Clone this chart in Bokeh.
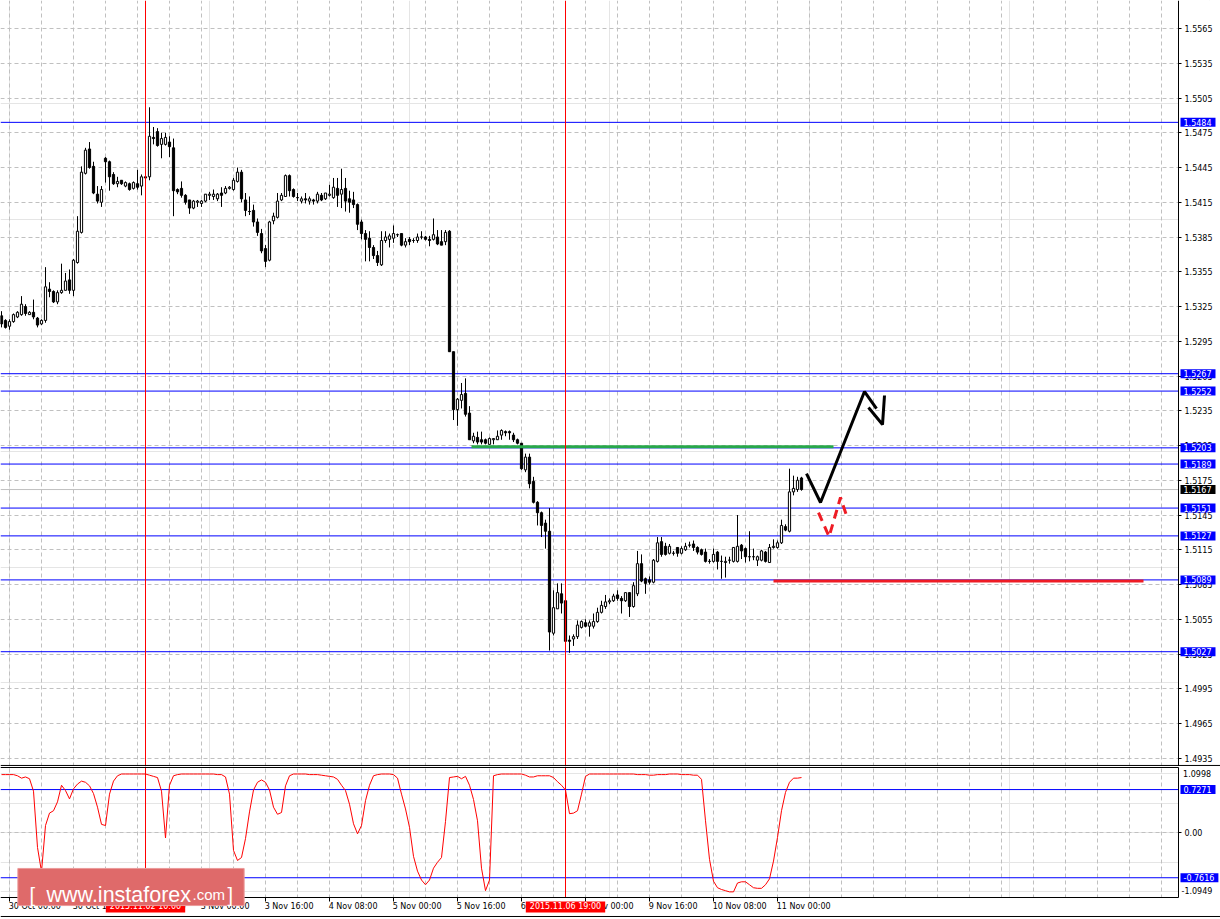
from bokeh.plotting import figure
from bokeh.models import (Range1d, FixedTicker, Label, Grid, PrintfTickFormatter, LinearAxis,
                          GlobalInlineStyleSheet)
from bokeh.layouts import column
from bokeh.embed import file_html
from bokeh.resources import INLINE

# ---------------- data (EUR/USD H1, bar index 0 = 30 Oct 00:00) ----------------
first_bar = -2
open_ = [1.5317,1.5313,1.5308,1.5312,1.5316,1.5318,1.5325,1.5318,1.5320,1.5315,1.5310,1.5313,1.5340,1.5338,1.5329,1.5337,1.5339,1.5348,1.5339,1.5363,
         1.5389,1.5440,1.5461,1.5446,1.5422,1.5415,1.5453,1.5450,1.5439,1.5431,1.5434,1.5429,1.5431,1.5427,1.5431,1.5429,1.5437,1.5437,1.5471,1.5476,
         1.5465,1.5465,1.5467,1.5462,1.5426,1.5427,1.5421,1.5417,1.5410,1.5415,1.5414,1.5416,1.5421,1.5420,1.5418,1.5423,1.5423,1.5427,1.5426,1.5433,
         1.5441,1.5417,1.5407,1.5408,1.5398,1.5388,1.5375,1.5365,1.5399,1.5402,1.5417,1.5420,1.5438,1.5426,1.5419,1.5416,1.5418,1.5416,1.5417,1.5416,
         1.5421,1.5418,1.5421,1.5419,1.5427,1.5422,1.5427,1.5418,1.5417,1.5413,1.5398,1.5388,1.5384,1.5376,1.5369,1.5361,1.5382,1.5383,1.5384,1.5387,
         1.5388,1.5378,1.5383,1.5382,1.5382,1.5385,1.5385,1.5383,1.5383,1.5385,1.5381,1.5381,1.5390,1.5286,1.5236,1.5244,1.5250,1.5233,1.5209,1.5212,
         1.5210,1.5210,1.5206,1.5210,1.5210,1.5214,1.5217,1.5217,1.5214,1.5210,1.5207,1.5184,1.5195,1.5174,1.5156,1.5147,1.5138,1.5131,1.5043,1.5064,
         1.5077,1.5071,1.5037,1.5038,1.5040,1.5048,1.5052,1.5049,1.5049,1.5053,1.5061,1.5066,1.5070,1.5071,1.5076,1.5073,1.5071,1.5078,1.5066,1.5077,
         1.5103,1.5090,1.5089,1.5087,1.5105,1.5122,1.5118,1.5112,1.5112,1.5117,1.5112,1.5115,1.5119,1.5120,1.5117,1.5115,1.5113,1.5105,1.5105,1.5113,
         1.5105,1.5104,1.5106,1.5105,1.5105,1.5119,1.5116,1.5109,1.5109,1.5106,1.5106,1.5113,1.5104,1.5117,1.5117,1.5121,1.5135,1.5131,1.5165,1.5167,
         1.5177]
high = [1.5321,1.5314,1.5314,1.5319,1.5321,1.5334,1.5327,1.5321,1.5331,1.5316,1.5314,1.5359,1.5346,1.5339,1.5339,1.5362,1.5354,1.5357,1.5366,1.5403,
        1.5446,1.5462,1.5467,1.5450,1.5429,1.5429,1.5454,1.5451,1.5441,1.5437,1.5434,1.5433,1.5432,1.5433,1.5443,1.5439,1.5438,1.5497,1.5480,1.5479,
        1.5475,1.5475,1.5472,1.5470,1.5427,1.5433,1.5422,1.5417,1.5417,1.5417,1.5417,1.5422,1.5424,1.5426,1.5423,1.5428,1.5429,1.5429,1.5436,1.5445,
        1.5443,1.5423,1.5420,1.5413,1.5401,1.5392,1.5378,1.5399,1.5406,1.5423,1.5423,1.5439,1.5439,1.5427,1.5423,1.5420,1.5423,1.5420,1.5418,1.5424,
        1.5423,1.5423,1.5430,1.5436,1.5436,1.5444,1.5436,1.5425,1.5424,1.5414,1.5400,1.5391,1.5390,1.5378,1.5373,1.5390,1.5390,1.5388,1.5395,1.5388,
        1.5388,1.5384,1.5385,1.5384,1.5388,1.5390,1.5386,1.5386,1.5401,1.5391,1.5391,1.5391,1.5391,1.5286,1.5246,1.5259,1.5263,1.5239,1.5216,1.5217,
        1.5217,1.5211,1.5212,1.5211,1.5218,1.5219,1.5218,1.5218,1.5216,1.5211,1.5207,1.5198,1.5198,1.5178,1.5157,1.5148,1.5141,1.5151,1.5080,1.5086,
        1.5086,1.5086,1.5041,1.5042,1.5054,1.5054,1.5055,1.5054,1.5060,1.5065,1.5071,1.5076,1.5073,1.5077,1.5080,1.5075,1.5078,1.5078,1.5087,1.5114,
        1.5111,1.5091,1.5092,1.5107,1.5126,1.5126,1.5121,1.5120,1.5114,1.5117,1.5118,1.5121,1.5122,1.5123,1.5118,1.5116,1.5116,1.5107,1.5116,1.5114,
        1.5110,1.5109,1.5109,1.5117,1.5145,1.5120,1.5117,1.5131,1.5116,1.5110,1.5115,1.5114,1.5120,1.5124,1.5123,1.5141,1.5137,1.5185,1.5179,1.5178,
        1.5178]
low = [1.5307,1.5306,1.5305,1.5311,1.5315,1.5317,1.5317,1.5318,1.5314,1.5307,1.5309,1.5311,1.5333,1.5328,1.5327,1.5336,1.5339,1.5336,1.5334,1.5362,
       1.5388,1.5439,1.5444,1.5422,1.5414,1.5411,1.5432,1.5425,1.5430,1.5428,1.5430,1.5428,1.5425,1.5426,1.5426,1.5421,1.5435,1.5434,1.5465,1.5463,
       1.5453,1.5464,1.5454,1.5403,1.5422,1.5419,1.5413,1.5405,1.5409,1.5411,1.5411,1.5415,1.5417,1.5417,1.5416,1.5411,1.5422,1.5426,1.5425,1.5432,
       1.5415,1.5403,1.5404,1.5394,1.5386,1.5371,1.5359,1.5364,1.5396,1.5401,1.5416,1.5420,1.5420,1.5419,1.5416,1.5414,1.5414,1.5413,1.5413,1.5414,
       1.5416,1.5417,1.5420,1.5418,1.5411,1.5410,1.5407,1.5406,1.5410,1.5391,1.5383,1.5364,1.5364,1.5366,1.5360,1.5360,1.5380,1.5376,1.5380,1.5385,
       1.5377,1.5376,1.5378,1.5380,1.5380,1.5383,1.5382,1.5377,1.5382,1.5378,1.5378,1.5378,1.5286,1.5227,1.5222,1.5237,1.5230,1.5210,1.5207,1.5206,
       1.5206,1.5206,1.5206,1.5206,1.5210,1.5210,1.5213,1.5210,1.5208,1.5206,1.5184,1.5182,1.5168,1.5155,1.5136,1.5126,1.5116,1.5028,1.5041,1.5064,
       1.5060,1.5034,1.5026,1.5032,1.5038,1.5047,1.5048,1.5040,1.5047,1.5052,1.5060,1.5064,1.5068,1.5070,1.5071,1.5060,1.5070,1.5057,1.5065,1.5075,
       1.5087,1.5077,1.5085,1.5086,1.5104,1.5109,1.5110,1.5111,1.5110,1.5109,1.5111,1.5114,1.5117,1.5114,1.5111,1.5110,1.5104,1.5103,1.5104,1.5098,
       1.5090,1.5091,1.5103,1.5104,1.5104,1.5107,1.5104,1.5105,1.5106,1.5101,1.5105,1.5104,1.5104,1.5116,1.5116,1.5120,1.5131,1.5130,1.5162,1.5165,
       1.5166]
close = [1.5310,1.5307,1.5312,1.5318,1.5320,1.5327,1.5319,1.5320,1.5316,1.5309,1.5313,1.5342,1.5338,1.5329,1.5337,1.5339,1.5347,1.5339,1.5365,1.5390,
         1.5441,1.5460,1.5445,1.5423,1.5416,1.5426,1.5450,1.5437,1.5431,1.5433,1.5431,1.5432,1.5426,1.5432,1.5428,1.5437,1.5436,1.5472,1.5470,1.5464,
         1.5470,1.5471,1.5463,1.5425,1.5424,1.5421,1.5415,1.5410,1.5416,1.5416,1.5416,1.5422,1.5422,1.5422,1.5422,1.5421,1.5427,1.5428,1.5434,1.5441,
         1.5418,1.5408,1.5407,1.5398,1.5389,1.5373,1.5364,1.5398,1.5403,1.5416,1.5421,1.5438,1.5425,1.5420,1.5419,1.5418,1.5417,1.5418,1.5416,1.5422,
         1.5417,1.5423,1.5422,1.5428,1.5421,1.5426,1.5416,1.5415,1.5413,1.5396,1.5388,1.5383,1.5376,1.5369,1.5363,1.5382,1.5385,1.5386,1.5388,1.5387,
         1.5378,1.5381,1.5381,1.5382,1.5385,1.5385,1.5383,1.5382,1.5387,1.5379,1.5378,1.5389,1.5286,1.5236,1.5245,1.5249,1.5232,1.5210,1.5213,1.5208,
         1.5208,1.5207,1.5211,1.5211,1.5213,1.5218,1.5216,1.5216,1.5210,1.5207,1.5185,1.5195,1.5172,1.5156,1.5147,1.5136,1.5131,1.5044,1.5065,1.5078,
         1.5069,1.5036,1.5036,1.5040,1.5050,1.5053,1.5049,1.5052,1.5053,1.5061,1.5067,1.5070,1.5071,1.5075,1.5073,1.5071,1.5078,1.5066,1.5084,1.5103,
         1.5088,1.5086,1.5087,1.5106,1.5121,1.5111,1.5111,1.5118,1.5112,1.5112,1.5116,1.5118,1.5119,1.5117,1.5113,1.5111,1.5105,1.5105,1.5111,1.5105,
         1.5105,1.5105,1.5106,1.5117,1.5118,1.5114,1.5109,1.5109,1.5109,1.5109,1.5114,1.5105,1.5117,1.5118,1.5121,1.5136,1.5132,1.5165,1.5168,1.5175,
         1.5167]
oscillator = [0.98,0.98,0.98,0.98,0.96,0.92,0.94,0.91,0.70,-0.25,-0.66,0.12,0.33,0.37,0.52,0.80,0.71,0.57,0.74,0.82,
              0.87,0.85,0.79,0.66,0.43,0.14,0.12,0.65,0.87,0.96,0.99,0.99,0.99,0.99,0.99,0.99,0.99,0.97,0.95,0.93,
              0.70,-0.09,0.80,0.96,0.98,0.99,0.99,0.99,0.99,0.99,0.99,0.99,0.99,0.99,0.98,0.98,0.94,0.65,-0.30,-0.47,
              -0.42,-0.10,0.35,0.72,0.85,0.89,0.85,0.72,0.43,0.31,0.34,0.79,0.96,0.99,0.99,0.99,0.99,0.98,0.98,0.98,
              0.97,0.96,0.95,0.94,0.90,0.80,0.71,0.48,0.15,-0.02,0.12,0.54,0.80,0.96,0.98,0.99,0.99,0.99,0.98,0.92,
              0.65,0.40,0.09,-0.40,-0.65,-0.80,-0.88,-0.80,-0.60,-0.50,-0.42,0.19,0.93,0.94,0.95,0.91,0.95,0.80,0.56,0.20,
              -0.60,-0.98,-0.80,0.96,0.98,0.99,0.99,0.99,0.99,0.99,0.99,0.97,0.94,0.94,0.96,0.96,0.96,0.96,0.93,0.86,
              0.80,0.72,0.32,0.33,0.37,0.65,0.95,0.99,0.99,0.99,0.99,0.99,0.99,0.99,0.99,0.99,0.99,0.99,0.99,0.98,
              0.98,0.98,0.97,0.97,0.98,0.98,0.98,0.99,0.99,0.99,0.98,0.98,0.98,0.97,0.97,0.90,0.20,-0.45,-0.82,-0.93,
              -0.96,-0.98,-1.00,-1.00,-0.85,-0.83,-0.83,-0.88,-0.93,-0.94,-0.94,-0.88,-0.78,-0.48,-0.08,0.37,0.68,0.85,0.92,0.92,
              0.93]

price_ticks = [1.4935,1.4965,1.4995,1.5025,1.5055,1.5085,1.5115,1.5145,1.5175,1.5205,1.5235,1.5265,1.5295,
               1.5325,1.5355,1.5385,1.5415,1.5445,1.5475,1.5505,1.5535,1.5565]
blue_levels = [1.5484,1.5267,1.5252,1.5203,1.5189,1.5151,1.5127,1.5089,1.5027]
last_price = 1.5167
time_ticks = [0,16,32,48,64,80,96,112,128,144,160,176,192]
time_labels = ["30 Oct 00:00","30 Oct 16:00","2 Nov 08:00","3 Nov 00:00","3 Nov 16:00","4 Nov 08:00",
               "5 Nov 00:00","5 Nov 16:00","6 Nov 08:00","9 Nov 00:00","9 Nov 16:00","10 Nov 08:00","11 Nov 00:00"]
cross_bars = [34, 139]
cross_texts = ["2015.11.02 10:00", "2015.11.06 19:00"]
osc_levels = [0.7271, -0.7616]
osc_min, osc_max = -1.0949, 1.0998

# hand-drawn analysis objects (bar index, price)
green_x = [115.5, 206.0]; green_y = [1.5204, 1.5204]
red_x = [191.0, 283.5];   red_y = [1.5088, 1.5088]
arrow_x = [199.25, 202.75, 213.75, 216.75]; arrow_y = [1.51808, 1.51558, 1.52516, 1.52369]
arrow_head_x = [214.75, 218.25, 218.75];    arrow_head_y = [1.52378, 1.52231, 1.52482]
alt_x = [202.25, 204.9, 207.75, 209.25];    alt_y = [1.51471, 1.51264, 1.51601, 1.51446]

# ---------------- layout constants (4 px per bar, bar 0 at x=9px) ----------------
FONT = "DejaVu Sans"
GRID = "#c0c0c0"
BLUE = "#0000ff"
X0, X1 = -2.25, 302.75          # full canvas width 1220 px
AX = 292.25                     # price-axis line (x = 1178 px)
BOX_X = 292.75
P1_Y = (1.49279, 1.55892)
P2_Y = (-1.4665, 1.1167)

n = len(close)
idx = list(range(first_bar, first_bar + n))
XR = Range1d(X0, X1)
vgrid = list(range(0, 292, 8))


def style_axis(ax, tick_out):
    ax.axis_line_color = "black"
    ax.major_tick_line_color = "black"
    ax.major_tick_out = tick_out
    ax.major_tick_in = 0
    ax.minor_tick_out = 0
    ax.minor_tick_in = 0
    ax.major_label_standoff = 3
    ax.major_label_text_font = FONT
    ax.major_label_text_font_size = "8px"
    ax.major_label_text_color = "black"


def box_label(fig, yv, txt, color):
    fig.add_layout(Label(x=BOX_X, y=yv, text=txt, text_align="left", text_baseline="middle",
                         text_font=FONT, text_font_size="8px", text_color="white",
                         background_fill_color=color, padding=dict(left=3, right=4, top=1, bottom=1)))


# ================= main price panel =================
p1 = figure(width=1220, height=766, x_range=XR, y_range=Range1d(*P1_Y),
            x_axis_location=None, y_axis_location=None, toolbar_location=None,
            output_backend="svg", min_border=0, outline_line_color=None,
            background_fill_color="white", border_fill_color="white")
p1.add_layout(Grid(dimension=1, ticker=FixedTicker(ticks=price_ticks), grid_line_color=GRID,
                   grid_line_dash="4 3"))
p1.add_layout(Grid(dimension=0, ticker=FixedTicker(ticks=vgrid), grid_line_color=GRID,
                   grid_line_dash="4 3"))
ya = LinearAxis(fixed_location=AX, ticker=FixedTicker(ticks=price_ticks),
                formatter=PrintfTickFormatter(format="%.4f"))
style_axis(ya, 3)
p1.add_layout(ya, "right")

# white axis area (hides grid beyond the price axis)
p1.quad(left=[AX], right=[X1], bottom=[P1_Y[0]], top=[P1_Y[1]], fill_color="white", line_color=None)

nl = len(blue_levels)
p1.segment(x0=[X0] * nl, y0=blue_levels, x1=[AX] * nl, y1=blue_levels, line_color=BLUE, line_width=1)
p1.segment(x0=[X0], y0=[last_price], x1=[AX], y1=[last_price], line_color="#c0c0c0", line_width=1)

# candles
up = [i for i in range(n) if close[i] >= open_[i]]
dn = [i for i in range(n) if close[i] < open_[i]]
p1.segment(x0=idx, y0=low, x1=idx, y1=high, line_color="black", line_width=1)
p1.vbar(x=[idx[i] for i in up], width=0.55, bottom=[open_[i] for i in up], top=[close[i] for i in up],
        fill_color="white", line_color="black", line_width=1)
p1.vbar(x=[idx[i] for i in dn], width=0.55, bottom=[close[i] for i in dn], top=[open_[i] for i in dn],
        fill_color="black", line_color="black", line_width=1)

# analysis drawings
p1.line(green_x, green_y, line_color="#27a84a", line_width=3)
p1.line(red_x, red_y, line_color="#ee1c25", line_width=3)
p1.line(arrow_x, arrow_y, line_color="black", line_width=3)
p1.line(arrow_head_x, arrow_head_y, line_color="black", line_width=3)
p1.line(alt_x, alt_y, line_color="#ee1c25", line_width=3, line_dash="9 6")

nc = len(cross_bars)
p1.segment(x0=cross_bars, y0=[P1_Y[0]] * nc, x1=cross_bars, y1=[P1_Y[1]] * nc,
           line_color="#ff0000", line_width=1)
# separator under the price panel
p1.segment(x0=[X0], y0=[1.49288], x1=[X1], y1=[1.49288], line_color="black", line_width=1)

for lv in blue_levels:
    box_label(p1, lv, "%.4f" % lv, BLUE)
box_label(p1, last_price, "%.4f" % last_price, "black")

# ================= indicator panel =================
p2 = figure(width=1220, height=153, x_range=XR, y_range=Range1d(*P2_Y),
            x_axis_location=None, y_axis_location=None, toolbar_location=None,
            output_backend="svg", min_border=0, outline_line_color=None,
            background_fill_color="white", border_fill_color="white")
p2.add_layout(Grid(dimension=1, ticker=FixedTicker(ticks=[0]), grid_line_color=GRID, grid_line_dash="4 3"))
p2.add_layout(Grid(dimension=0, ticker=FixedTicker(ticks=vgrid), grid_line_color=GRID, grid_line_dash="4 3"))

ya2 = LinearAxis(fixed_location=AX, ticker=FixedTicker(ticks=[0]), bounds=(osc_min, osc_max),
                 major_label_overrides={0: "0.00"})
style_axis(ya2, 3)
p2.add_layout(ya2, "right")

xa = LinearAxis(fixed_location=osc_min, ticker=FixedTicker(ticks=time_ticks), bounds=(X0, AX),
                major_label_overrides={t: "" for t in time_ticks})
style_axis(xa, 4)
p2.add_layout(xa, "below")

# white axis areas
p2.quad(left=[AX], right=[X1], bottom=[P2_Y[0]], top=[P2_Y[1]], fill_color="white", line_color=None)
p2.quad(left=[X0], right=[X1], bottom=[P2_Y[0]], top=[osc_min], fill_color="white", line_color=None)

no = len(osc_levels)
p2.segment(x0=[X0] * no, y0=osc_levels, x1=[AX] * no, y1=osc_levels, line_color=BLUE, line_width=1)
p2.line(idx, oscillator, line_color="#ff0000", line_width=1)
p2.segment(x0=cross_bars, y0=[osc_min] * nc, x1=cross_bars, y1=[P2_Y[1]] * nc,
           line_color="#ff0000", line_width=1)
p2.segment(x0=[X0], y0=[osc_max], x1=[AX], y1=[osc_max], line_color="black", line_width=1)
p2.segment(x0=[X0], y0=[-1.4158], x1=[X1], y1=[-1.4158], line_color="black", line_width=1)

for lv in osc_levels:
    box_label(p2, lv, "%.4f" % lv, BLUE)
p2.add_layout(Label(x=293.4, y=0.9985, text="%.4f" % osc_max, text_align="left", text_baseline="middle",
                    text_font=FONT, text_font_size="8px", text_color="black"))
p2.add_layout(Label(x=293.0, y=-0.9768, text="%.4f" % osc_min, text_align="left", text_baseline="middle",
                    text_font=FONT, text_font_size="8px", text_color="black"))

# time labels (left-aligned at their ticks, MT4 style)
for t, s in zip(time_ticks, time_labels):
    p2.add_layout(Label(x=t - 0.2, y=-1.2554, text=s, text_align="left", text_baseline="middle",
                        text_font=FONT, text_font_size="8px", text_color="black"))

for cb, ct in zip(cross_bars, cross_texts):
    p2.add_layout(Label(x=cb, y=-1.2554, text=ct, text_align="center", text_baseline="middle",
                        text_font=FONT, text_font_size="8px", text_color="white",
                        background_fill_color="#ff0000", padding=dict(left=4, right=4, top=1, bottom=1)))

# watermark
p2.add_layout(Label(x=30.375, y=-0.9178, text=" ", text_align="center", text_baseline="middle",
                    text_font_size="1px", background_fill_color="#df6a6a",
                    border_line_color="#eb9a9a", border_line_width=1,
                    padding=dict(left=113, right=113, top=18, bottom=18)))
wm = dict(text_font="Liberation Sans", text_color="white", text_baseline="alphabetic", text_align="left")
p2.add_layout(Label(x=5.0, y=-1.0494, text="[", text_font_size="20px", **wm))
p2.add_layout(Label(x=9.25, y=-1.0494, text="www.instaforex", text_font_size="21.5px", **wm))
p2.add_layout(Label(x=45.75, y=-1.0494, text=".com", text_font_size="15px", **wm))
p2.add_layout(Label(x=54.5, y=-1.0494, text="]", text_font_size="20px", **wm))

layout = column(p1, p2, spacing=0)
layout.stylesheets = [GlobalInlineStyleSheet(css="html, body { margin: 0 !important; padding: 0; overflow: hidden; }")]

open("out.html", "w").write(file_html(layout, INLINE))
